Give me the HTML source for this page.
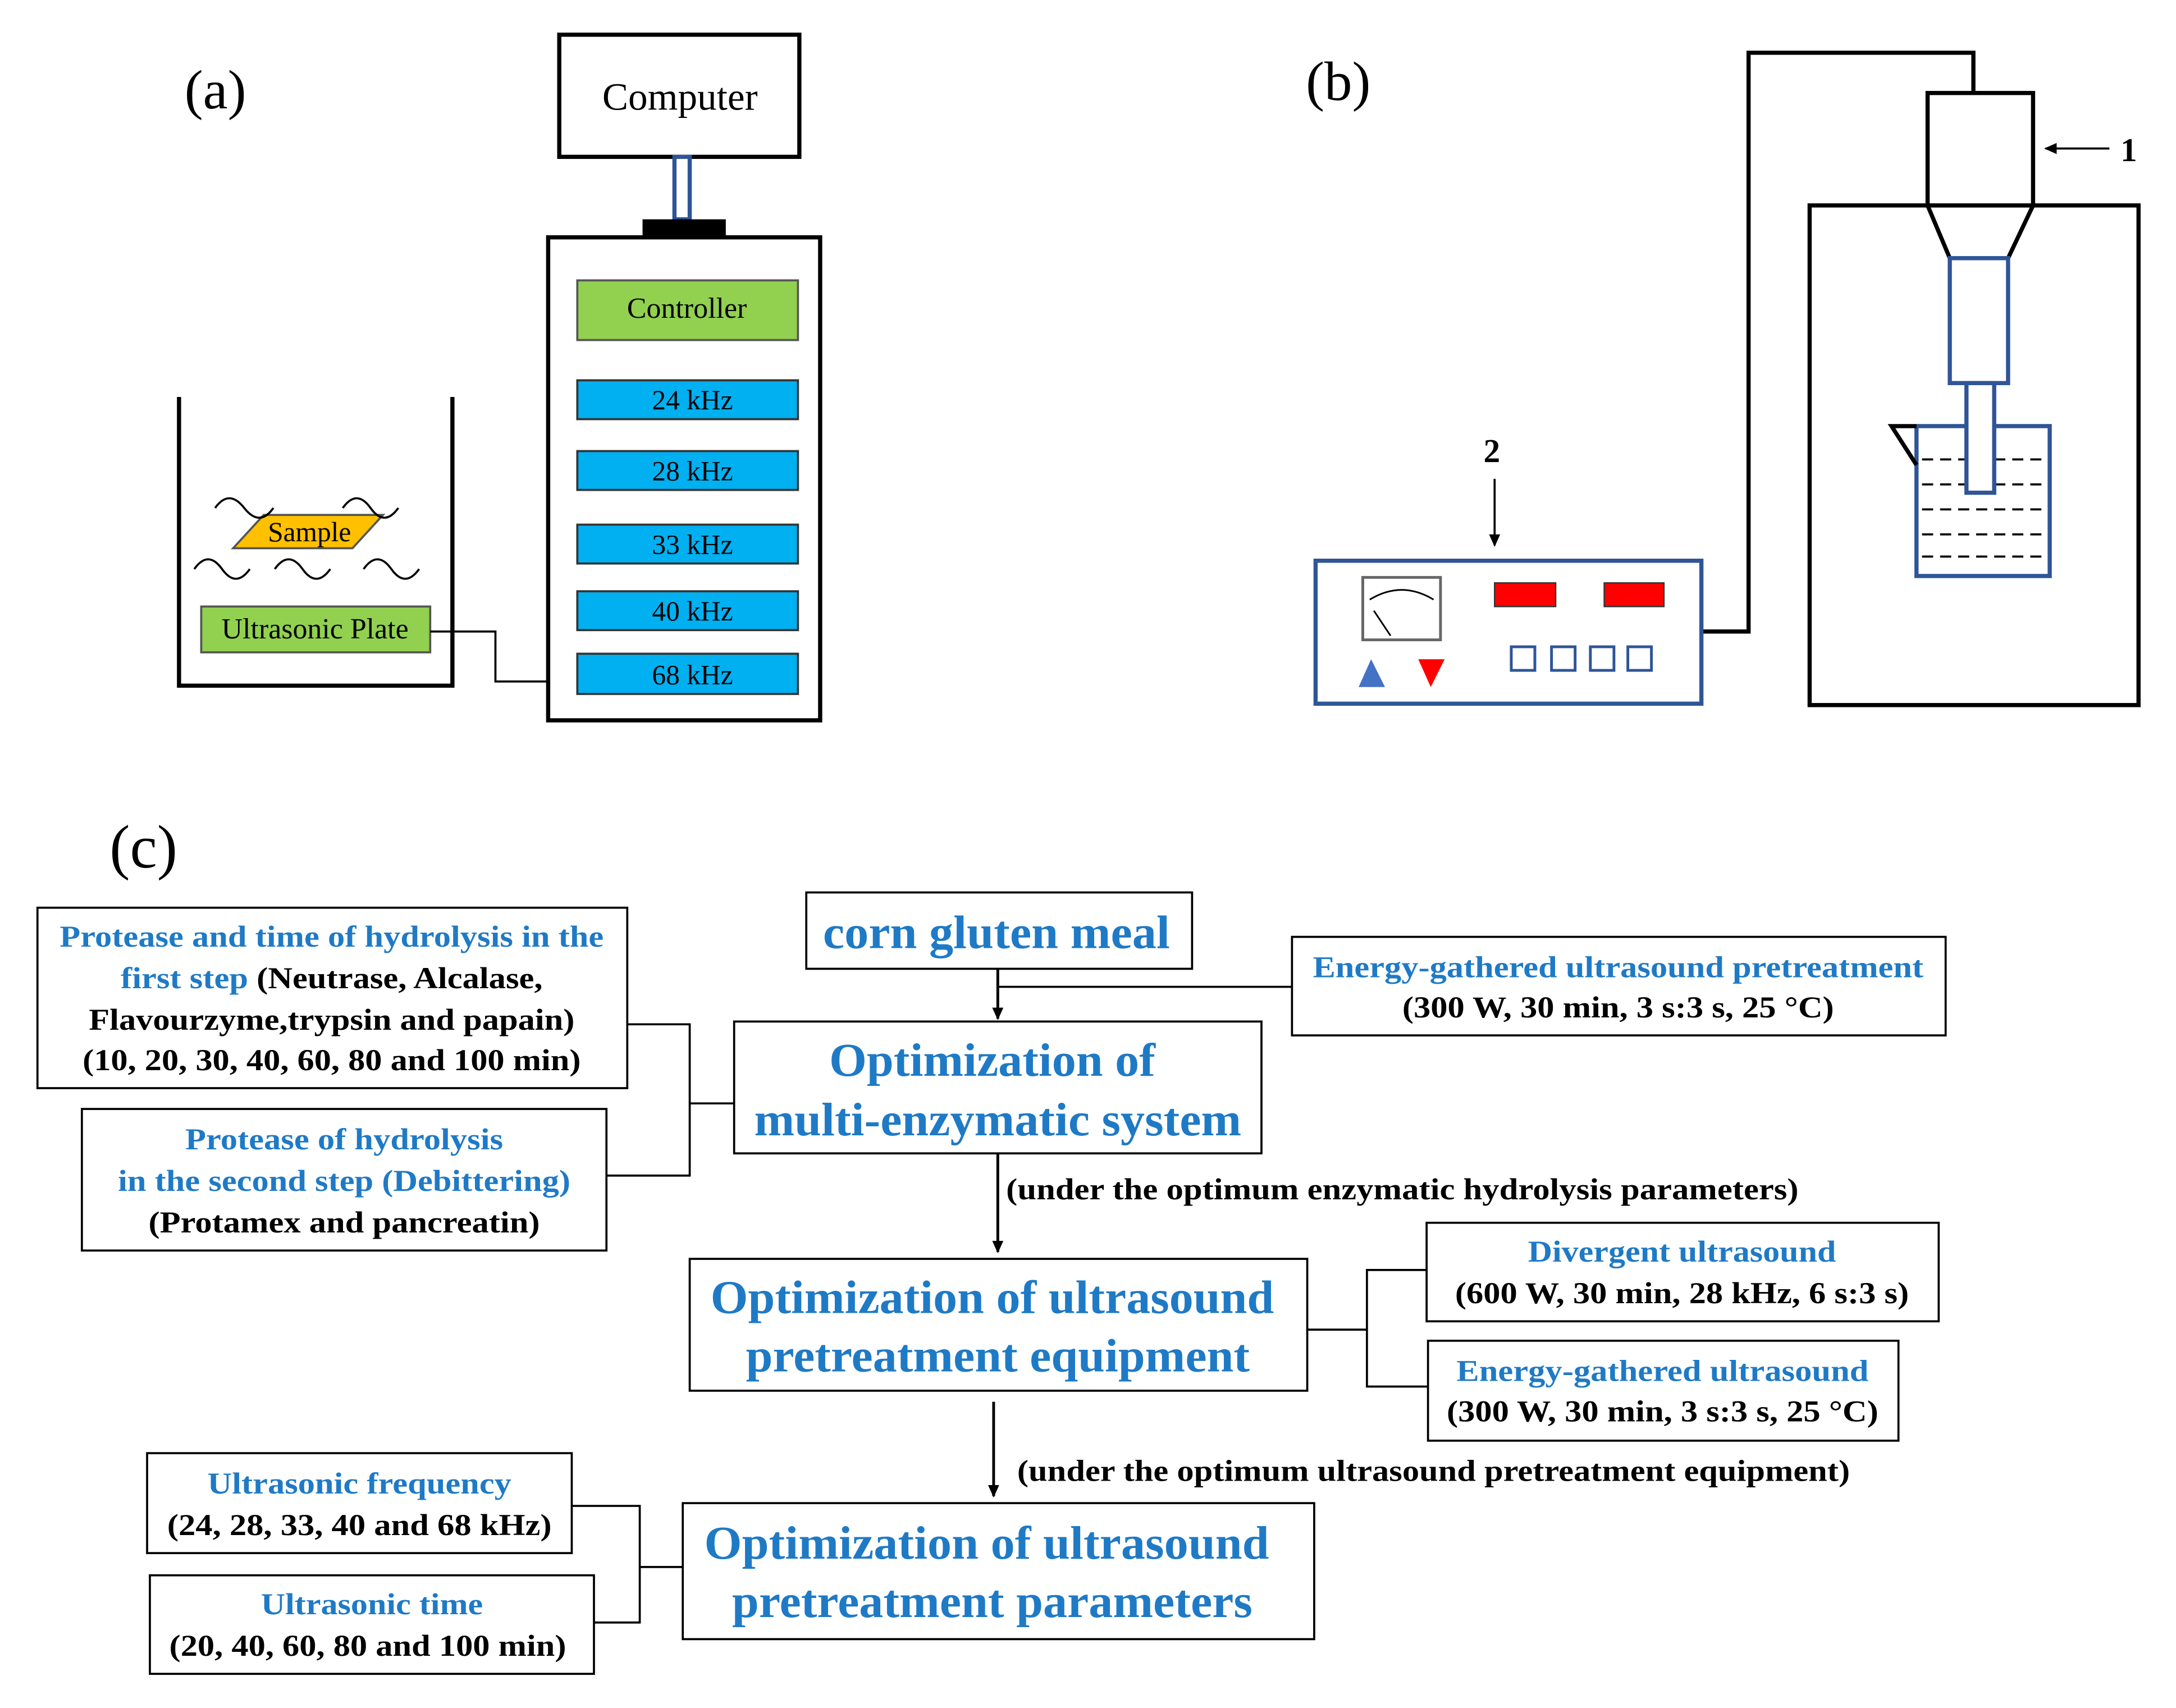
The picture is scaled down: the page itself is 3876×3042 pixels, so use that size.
<!DOCTYPE html>
<html><head><meta charset="utf-8"><style>
html,body{margin:0;padding:0;background:#fff;}
svg{display:block;}
text{font-family:"Liberation Serif",serif;}
.b{font-weight:bold;}
.blue{fill:#1f7ac6;}
</style></head><body>
<svg width="3876" height="3042" viewBox="0 0 1568 1230.6" xmlns="http://www.w3.org/2000/svg">
<defs>
<marker id="ah" markerWidth="10" markerHeight="10" refX="8" refY="5" orient="auto" markerUnits="userSpaceOnUse"><path d="M0,1 L9,5 L0,9 Z" fill="#000"/></marker>
</defs>
<rect width="1570" height="1232" fill="#fff"/>
<!-- Panel a -->
<text x="133" y="78" font-size="40">(a)</text>
<rect x="403" y="25" width="173" height="88" fill="#fff" stroke="#000" stroke-width="3"/>
<text x="490" y="79" font-size="28" text-anchor="middle">Computer</text>
<rect x="486" y="113" width="11" height="45" fill="#fff" stroke="#2f5597" stroke-width="3"/>
<rect x="463" y="158" width="60" height="12" fill="#000"/>
<rect x="395" y="171" width="196" height="348" fill="#fff" stroke="#000" stroke-width="3"/>
<rect x="416" y="202" width="159" height="43" fill="#92d050" stroke="#555" stroke-width="1.5"/>
<text x="495" y="229" font-size="21" text-anchor="middle">Controller</text>
<g fill="#00b0f0" stroke="#333" stroke-width="1.5">
<rect x="416" y="274" width="159" height="28"/><rect x="416" y="325" width="159" height="28"/>
<rect x="416" y="378" width="159" height="28"/><rect x="416" y="426" width="159" height="28"/>
<rect x="416" y="471" width="159" height="29"/></g>
<g font-size="20" text-anchor="middle">
<text x="499" y="295">24 kHz</text><text x="499" y="346">28 kHz</text><text x="499" y="399">33 kHz</text>
<text x="499" y="447">40 kHz</text><text x="499" y="493">68 kHz</text></g>
<path d="M129,286 V494 H326 V286" fill="none" stroke="#000" stroke-width="3"/>
<rect x="145" y="437" width="165" height="33" fill="#92d050" stroke="#555" stroke-width="1.5"/>
<text x="227" y="460" font-size="21" text-anchor="middle">Ultrasonic Plate</text>
<path d="M310,455 H357 V491 H395" fill="none" stroke="#000" stroke-width="1.5"/>
<polygon points="168,395 190,371 276,371 254,395" fill="#ffc000" stroke="#555" stroke-width="1.5"/>
<text x="223" y="390" font-size="20" text-anchor="middle">Sample</text>
<g fill="none" stroke="#000" stroke-width="1.5">
<path d="M155,366 q10,-14 21,0 t21,0"/><path d="M247,366 q10,-14 20,0 t20,0"/>
<path d="M140,410 q10,-14 20,0 t20,0"/><path d="M198,410 q10,-14 20,0 t20,0"/><path d="M262,410 q10,-14 20,0 t20,0"/></g>
<!-- Panel b -->
<text x="941" y="72" font-size="40">(b)</text>
<rect x="1304" y="148" width="237" height="360" fill="none" stroke="#000" stroke-width="3"/>
<rect x="1389" y="67" width="76" height="81" fill="#fff" stroke="#000" stroke-width="3"/>
<path d="M1422,67 V38 H1260 V455 H1226" fill="none" stroke="#000" stroke-width="3"/>
<path d="M1389,148 L1405,186 M1465,148 L1447,186" stroke="#000" stroke-width="3"/>
<rect x="1381" y="307" width="96" height="108" fill="none" stroke="#2f5597" stroke-width="3"/>
<path d="M1381,307 H1363 L1381,335" fill="none" stroke="#000" stroke-width="3"/>
<g stroke="#000" stroke-width="1.5" stroke-dasharray="8,5">
<line x1="1385" y1="331" x2="1474" y2="331"/><line x1="1385" y1="349" x2="1474" y2="349"/>
<line x1="1385" y1="367" x2="1474" y2="367"/><line x1="1385" y1="385" x2="1474" y2="385"/>
<line x1="1385" y1="401" x2="1474" y2="401"/></g>
<rect x="1405" y="186" width="42" height="90" fill="#fff" stroke="#2f5597" stroke-width="3"/>
<rect x="1417" y="276" width="20" height="79" fill="#fff" stroke="#2f5597" stroke-width="3"/>
<line x1="1520" y1="107" x2="1474" y2="107" stroke="#000" stroke-width="1.5" marker-end="url(#ah)"/>
<text x="1528" y="116" font-size="24" class="b">1</text>
<rect x="948" y="404" width="278" height="103" fill="#fff" stroke="#2f5597" stroke-width="3"/>
<rect x="982" y="416" width="56" height="45" fill="#fff" stroke="#666" stroke-width="2"/>
<path d="M987,432 Q1010,418 1033,432" fill="none" stroke="#000" stroke-width="1.2"/>
<line x1="990" y1="440" x2="1002" y2="458" stroke="#000" stroke-width="1.2"/>
<polygon points="988,475 979,495 998,495" fill="#4472c4"/>
<polygon points="1022,475 1041,475 1031,495" fill="#ff0000"/>
<rect x="1077" y="420" width="44" height="17" fill="#ff0000" stroke="#333"/>
<rect x="1156" y="420" width="43" height="17" fill="#ff0000" stroke="#333"/>
<g fill="none" stroke="#2f5597" stroke-width="2">
<rect x="1089" y="466" width="17" height="17"/><rect x="1118" y="466" width="17" height="17"/>
<rect x="1146" y="466" width="17" height="17"/><rect x="1173" y="466" width="17" height="17"/></g>
<text x="1075" y="333" font-size="24" class="b" text-anchor="middle">2</text>
<line x1="1077" y1="345" x2="1077" y2="393" stroke="#000" stroke-width="1.5" marker-end="url(#ah)"/>
<!-- Panel c -->
<text x="79" y="625" font-size="44">(c)</text>
<g fill="#fff" stroke="#000" stroke-width="1.5">
<rect x="581" y="643" width="278" height="55"/>
<rect x="931" y="675" width="471" height="71"/>
<rect x="529" y="736" width="380" height="95"/>
<rect x="27" y="654" width="425" height="130"/>
<rect x="59" y="799" width="378" height="102"/>
<rect x="497" y="907" width="445" height="95"/>
<rect x="1028" y="881" width="369" height="71"/>
<rect x="1029" y="966" width="339" height="72"/>
<rect x="492" y="1083" width="455" height="98"/>
<rect x="106" y="1047" width="306" height="72"/>
<rect x="108" y="1135" width="320" height="71"/>
</g>
<g fill="none" stroke="#000" stroke-width="1.5">
<path d="M719,711 H931"/>
<path d="M452,738 H497 V847 H437 M497,795 H529"/>
<path d="M942,958 H985 M1028,915 H985 V999 H1029"/>
<path d="M412,1085 H461 V1169 H428 M461,1129 H492"/>
</g>
<g stroke="#000" stroke-width="2">
<line x1="719" y1="698" x2="719" y2="734" marker-end="url(#ah)"/>
<line x1="719" y1="831" x2="719" y2="902" marker-end="url(#ah)"/>
<line x1="716" y1="1010" x2="716" y2="1078" marker-end="url(#ah)"/>
</g>
<g class="b" font-size="34" text-anchor="middle">
<text class="blue" x="718" y="683" textLength="250" lengthAdjust="spacingAndGlyphs">corn gluten meal</text>
<text class="blue" x="715" y="775" textLength="235" lengthAdjust="spacingAndGlyphs">Optimization of</text>
<text class="blue" x="719" y="818" textLength="351" lengthAdjust="spacingAndGlyphs">multi-enzymatic system</text>
<text class="blue" x="715" y="946" textLength="406" lengthAdjust="spacingAndGlyphs">Optimization of ultrasound</text>
<text class="blue" x="719" y="988" textLength="363" lengthAdjust="spacingAndGlyphs">pretreatment equipment</text>
<text class="blue" x="711" y="1123" textLength="407" lengthAdjust="spacingAndGlyphs">Optimization of ultrasound</text>
<text class="blue" x="715" y="1165" textLength="375" lengthAdjust="spacingAndGlyphs">pretreatment parameters</text>
</g>
<g class="b" font-size="22" text-anchor="middle">
<text class="blue" x="1166" y="704" textLength="440" lengthAdjust="spacingAndGlyphs">Energy-gathered ultrasound pretreatment</text>
<text x="1166" y="733" textLength="311" lengthAdjust="spacingAndGlyphs">(300 W, 30 min, 3 s:3 s, 25 °C)</text>
<text class="blue" x="239" y="682" textLength="392" lengthAdjust="spacingAndGlyphs">Protease and time of hydrolysis in the</text>
<text x="239" y="712" textLength="304" lengthAdjust="spacingAndGlyphs"><tspan class="blue">first step</tspan> (Neutrase, Alcalase,</text>
<text x="239" y="742" textLength="350" lengthAdjust="spacingAndGlyphs">Flavourzyme,trypsin and papain)</text>
<text x="239" y="771" textLength="359" lengthAdjust="spacingAndGlyphs">(10, 20, 30, 40, 60, 80 and 100 min)</text>
<text class="blue" x="248" y="828" textLength="229" lengthAdjust="spacingAndGlyphs">Protease of hydrolysis</text>
<text class="blue" x="248" y="858" textLength="326" lengthAdjust="spacingAndGlyphs">in the second step (Debittering)</text>
<text x="248" y="888" textLength="282" lengthAdjust="spacingAndGlyphs">(Protamex and pancreatin)</text>
<text class="blue" x="1212" y="909" textLength="222" lengthAdjust="spacingAndGlyphs">Divergent ultrasound</text>
<text x="1212" y="939" textLength="327" lengthAdjust="spacingAndGlyphs">(600 W, 30 min, 28 kHz, 6 s:3 s)</text>
<text class="blue" x="1198" y="995" textLength="297" lengthAdjust="spacingAndGlyphs">Energy-gathered ultrasound</text>
<text x="1198" y="1024" textLength="311" lengthAdjust="spacingAndGlyphs">(300 W, 30 min, 3 s:3 s, 25 °C)</text>
<text class="blue" x="259" y="1076" textLength="219" lengthAdjust="spacingAndGlyphs">Ultrasonic frequency</text>
<text x="259" y="1106" textLength="277" lengthAdjust="spacingAndGlyphs">(24, 28, 33, 40 and 68 kHz)</text>
<text class="blue" x="268" y="1163" textLength="160" lengthAdjust="spacingAndGlyphs">Ultrasonic time</text>
<text x="265" y="1193" textLength="286" lengthAdjust="spacingAndGlyphs">(20, 40, 60, 80 and 100 min)</text>
</g>
<g class="b" font-size="22">
<text x="725" y="864" textLength="571" lengthAdjust="spacingAndGlyphs">(under the optimum enzymatic hydrolysis parameters)</text>
<text x="733" y="1067" textLength="600" lengthAdjust="spacingAndGlyphs">(under the optimum ultrasound pretreatment equipment)</text>
</g>
</svg>
</body></html>
